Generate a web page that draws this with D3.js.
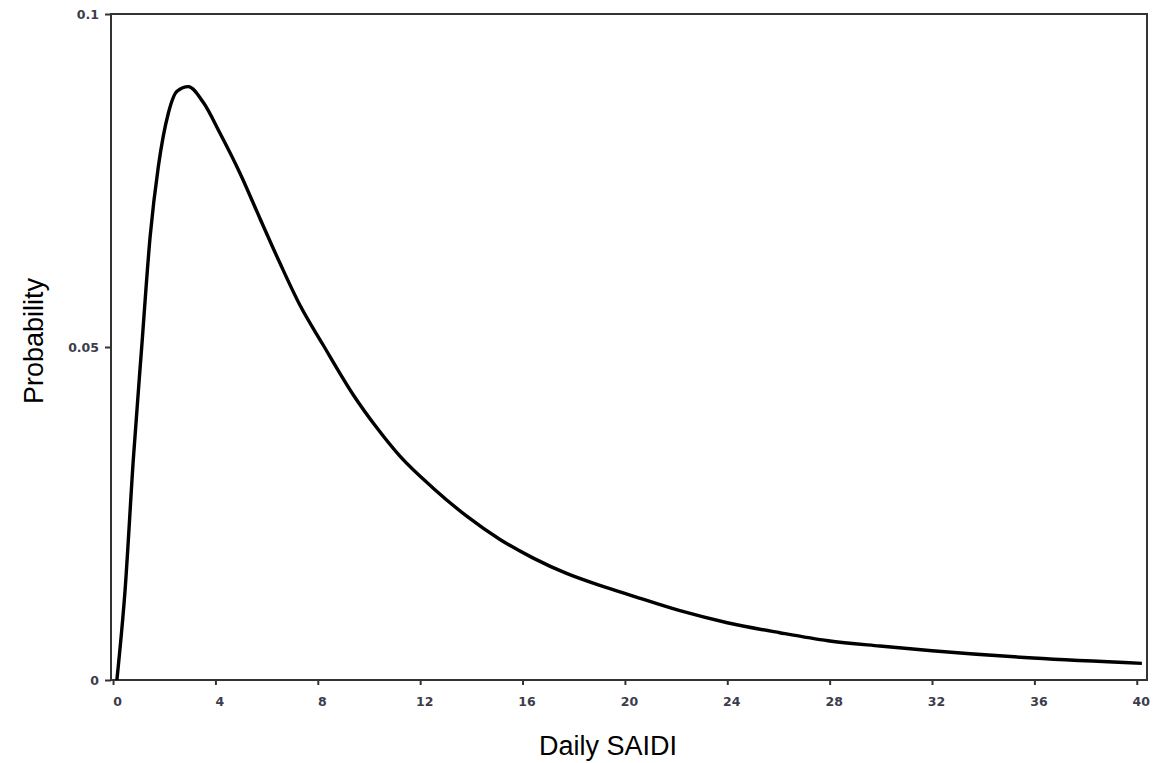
<!DOCTYPE html>
<html>
<head>
<meta charset="utf-8">
<script src="https://d3js.org/d3.v7.min.js"></script>
<style>
  body { margin: 0; background: #fff; }
  .tick text { font-family: "DejaVu Sans", sans-serif; font-size: 12.5px; font-weight: bold; fill: #3c3c4c; }
  .tick line { stroke: #333; stroke-width: 2; }
  .title { font-family: "Liberation Sans", Arial, sans-serif; font-size: 27px; fill: #000; }
</style>
</head>
<body>
<script>
// daily SAIDI (x) and probability (y)
var saidi = [0.15, 0.47, 0.79, 1.12, 1.45, 1.77, 2.16, 2.5, 2.94, 3.53, 4.18, 4.96, 5.74, 6.52, 7.3, 8.21,
  9.39, 10.3, 11.21, 12.51, 13.82, 15.12, 16.42, 17.72, 19.02, 20.32, 22.15, 24, 26.05, 27.94, 29.96, 32, 35.95, 40.2];
var prob = [0, 0.0135, 0.033, 0.050, 0.0666, 0.0771, 0.0851, 0.0884, 0.0891, 0.0867, 0.0821, 0.0761, 0.0693, 0.0626, 0.0563, 0.0503,
  0.0428, 0.0379, 0.0336, 0.0288, 0.0246, 0.0211, 0.0183, 0.0160, 0.0142, 0.0126, 0.0104, 0.0086, 0.0071, 0.0059, 0.0051, 0.0044, 0.0033, 0.0025];

var xTicks = [0, 4, 8, 12, 16, 20, 24, 28, 32, 36, 40];
var yTicks = [0, 0.05, 0.1];
var yTickLabels = ["0", "0.05", "0.1"];

var width = 1165,
    height = 763;

var svg = d3.select("body").append("svg").attr("width", width).attr("height", height);

var x = d3.scaleLinear().domain([-0.08, 40.4]).range([111, 1147]);
var y = d3.scaleLinear().domain([0, 0.1]).range([680, 14]);

var points = saidi.map(function(d, i){ return [d, prob[i]]; });

// frame
svg.append("rect")
    .attr("x", x.range()[0])
    .attr("y", y.range()[1])
    .attr("width", x.range()[1] - x.range()[0])
    .attr("height", y.range()[0] - y.range()[1])
    .attr("fill", "none")
    .attr("stroke", "#333")
    .attr("stroke-width", 2);

// axes
var xAxis = svg.append("g")
    .attr("transform", "translate(0," + y(0) + ")")
    .call(d3.axisBottom(x).tickValues(xTicks).tickSize(5).tickPadding(12).tickFormat(d3.format("d")));
xAxis.select(".domain").remove();
xAxis.selectAll("text").attr("dx", 4);

var yAxis = svg.append("g")
    .attr("transform", "translate(" + x.range()[0] + ",0)")
    .call(d3.axisLeft(y).tickValues(yTicks).tickSize(6).tickPadding(6)
      .tickFormat(function(d, i){ return yTickLabels[i]; }));
yAxis.select(".domain").remove();

// curve
var line = d3.line()
    .x(function(d){ return x(d[0]); })
    .y(function(d){ return y(d[1]); })
    .curve(d3.curveMonotoneX);

svg.append("path")
    .datum(points)
    .attr("d", line)
    .attr("fill", "none")
    .attr("stroke", "#000")
    .attr("stroke-width", 3.4)
    .attr("stroke-linejoin", "round");

// titles
svg.append("text")
    .attr("class", "title")
    .attr("x", 608)
    .attr("y", 755)
    .attr("text-anchor", "middle")
    .text("Daily SAIDI");

svg.append("text")
    .attr("class", "title")
    .attr("transform", "translate(43,341) rotate(-90)")
    .attr("text-anchor", "middle")
    .text("Probability");
</script>
</body>
</html>
